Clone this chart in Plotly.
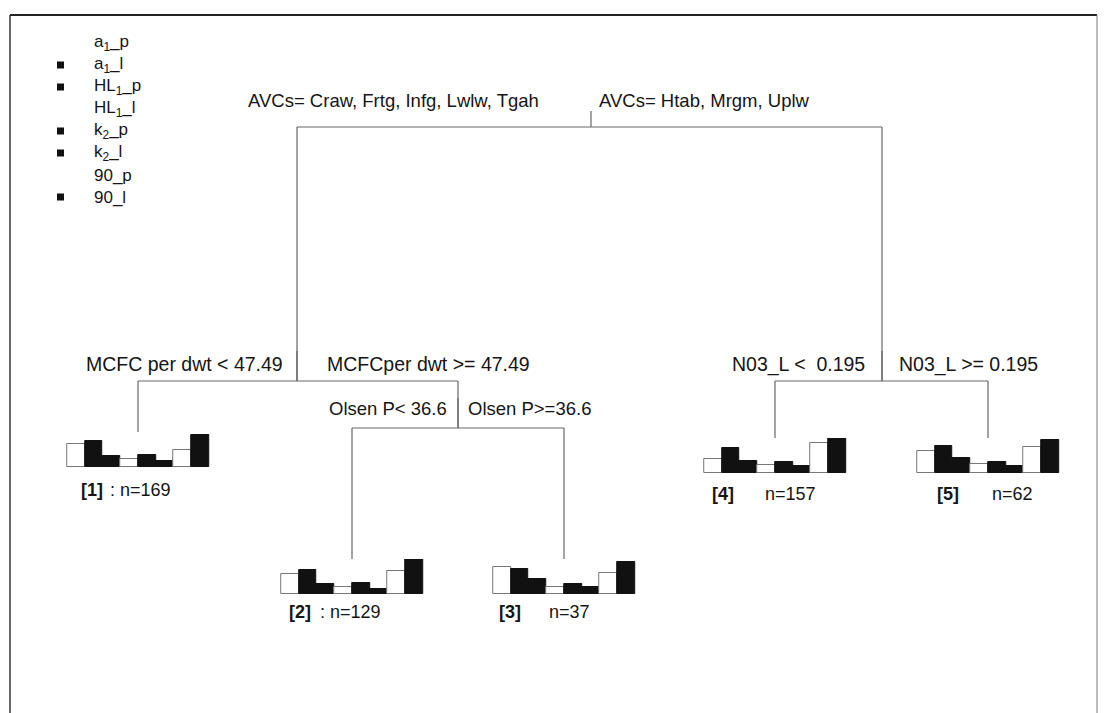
import plotly.graph_objects as go

W, H = 1107, 713
FONT = "Liberation Sans, Arial, sans-serif"
TXT = "#151515"

# Response variables (bar order inside every leaf) and their fill colours
series = ["a<sub>1</sub>_p", "a<sub>1</sub>_l", "HL<sub>1</sub>_p", "HL<sub>1</sub>_l",
          "k<sub>2</sub>_p", "k<sub>2</sub>_l", "90_p", "90_l"]
series_fill = ["white", "#111111", "#111111", "white", "#111111", "#111111", "white", "#111111"]
series_edge = ["#777777", "#111111", "#111111", "#777777", "#111111", "#111111", "#777777", "#111111"]

# Leaf means (relative scale) and leaf sizes
leaf_labels = ["[1]", "[2]", "[3]", "[4]", "[5]"]
leaf_sep = [":", ":", "", "", ""]
leaf_n = [169, 129, 37, 157, 62]
leaf1 = [0.66, 0.74, 0.31, 0.23, 0.34, 0.17, 0.49, 0.91]
leaf2 = [0.57, 0.68, 0.28, 0.20, 0.32, 0.15, 0.65, 0.99]
leaf3 = [0.77, 0.72, 0.43, 0.20, 0.29, 0.20, 0.60, 0.91]
leaf4 = [0.41, 0.71, 0.33, 0.24, 0.32, 0.19, 0.86, 0.99]
leaf5 = [0.62, 0.77, 0.43, 0.27, 0.32, 0.19, 0.75, 0.95]
leaf_values = [leaf1, leaf2, leaf3, leaf4, leaf5]

# Split rules (left branch text, right branch text)
splits = [
    ("AVCs= Craw, Frtg, Infg, Lwlw, Tgah", "AVCs= Htab, Mrgm, Uplw"),
    ("MCFC per dwt < 47.49", "MCFCper dwt >= 47.49"),
    ("Olsen P< 36.6", "Olsen P>=36.6"),
    ("N03_L <  0.195", "N03_L >= 0.195"),
]
split_font = [18.5, 19.5, 18.5, 19.5]

# ---- layout geometry (pixels, origin top-left) ----
leaf_cx = [138, 352, 564, 775, 988]
leaf_base = [467, 594, 594, 473, 473]
bar_block_w = 142
bar_block_h = 35
leaf_text_y = [490, 612, 612, 494, 494]
leaf_id_x = [79, 287, 497, 710, 935]
leaf_n_x = [108, 318, 547, 763, 990]

# split nodes: x of node, y of horizontal connector, x of left/right child, label anchors
nodes = [
    dict(x=591, y=127, xl=297, xr=882, tick=16, lx=541, rx=597, ty=100),
    dict(x=297, y=381, xl=leaf_cx[0], xr=458, tick=30, lx=285, rx=325, ty=364),
    dict(x=458, y=428, xl=leaf_cx[1], xr=leaf_cx[2], tick=30, lx=449, rx=466, ty=408),
    dict(x=882, y=381, xl=leaf_cx[3], xr=leaf_cx[4], tick=30, lx=867, rx=897, ty=364),
]
# where each branch's vertical drop ends
child_bottom = {
    (0, "l"): 381, (0, "r"): 381,
    (1, "l"): leaf_base[0] - bar_block_h, (1, "r"): 428,
    (2, "l"): leaf_base[1] - bar_block_h, (2, "r"): leaf_base[2] - bar_block_h,
    (3, "l"): leaf_base[3] - bar_block_h, (3, "r"): leaf_base[4] - bar_block_h,
}

fig = go.Figure()
LINE = dict(color="#666666", width=1.2)
shapes = []
annotations = []


def label(x, y, text, anchor, size=18):
    return dict(x=x, y=y, xref="x", yref="y", text=text, xanchor=anchor, yanchor="middle",
                showarrow=False, font=dict(family=FONT, size=size, color=TXT))


# tree branches
for i, nd in enumerate(nodes):
    shapes.append(dict(type="line", xref="x", yref="y", x0=nd["x"], x1=nd["x"],
                       y0=nd["y"] - nd["tick"], y1=nd["y"], line=LINE))
    shapes.append(dict(type="line", xref="x", yref="y", x0=nd["xl"], x1=nd["xr"],
                       y0=nd["y"], y1=nd["y"], line=LINE))
    shapes.append(dict(type="line", xref="x", yref="y", x0=nd["xl"], x1=nd["xl"],
                       y0=nd["y"], y1=child_bottom[(i, "l")], line=LINE))
    shapes.append(dict(type="line", xref="x", yref="y", x0=nd["xr"], x1=nd["xr"],
                       y0=nd["y"], y1=child_bottom[(i, "r")], line=LINE))
    left_txt, right_txt = splits[i]
    annotations.append(label(nd["lx"], nd["ty"], left_txt, "right", split_font[i]))
    annotations.append(label(nd["rx"], nd["ty"], right_txt, "left", split_font[i]))

# leaf bar charts, each on its own small axis pair
pad = 0.1
for k, vals in enumerate(leaf_values):
    ax = k + 2
    n = len(series)
    unit = bar_block_w / n
    x0 = (leaf_cx[k] - bar_block_w / 2 - pad * unit) / W
    x1 = (leaf_cx[k] + bar_block_w / 2 + pad * unit) / W
    y0 = (H - leaf_base[k] - 1) / H
    y1 = (H - leaf_base[k] + bar_block_h) / H
    fig.add_trace(go.Bar(
        x=list(range(n)), y=vals,
        marker=dict(color=series_fill, line=dict(color=series_edge, width=1)),
        xaxis=f"x{ax}", yaxis=f"y{ax}", showlegend=False, hoverinfo="skip",
    ))
    fig.layout[f"xaxis{ax}"] = dict(domain=[x0, x1], range=[-0.5 - pad, n - 0.5 + pad],
                                    visible=False, anchor=f"y{ax}", fixedrange=True)
    fig.layout[f"yaxis{ax}"] = dict(domain=[y0, y1], range=[-1.0 / bar_block_h, 1.0],
                                    visible=False, anchor=f"x{ax}", fixedrange=True)
    # leaf caption
    annotations.append(label(leaf_id_x[k], leaf_text_y[k], f"<b>{leaf_labels[k]}</b>", "left"))
    cap = (leaf_sep[k] + " " if leaf_sep[k] else "") + f"n={leaf_n[k]}"
    annotations.append(label(leaf_n_x[k], leaf_text_y[k], cap, "left"))

# key of response variables
key_top, key_step = 43, 22
for j, name in enumerate(series):
    yy = key_top + j * key_step
    if series_fill[j] != "white":
        shapes.append(dict(type="rect", xref="x", yref="y", x0=57, x1=64, y0=yy - 3.5, y1=yy + 3.5,
                           fillcolor="#111", line=dict(width=0)))
    annotations.append(label(92, yy, name, "left", 17))

# frame
shapes += [
    dict(type="line", xref="x", yref="y", x0=10, x1=1097, y0=15, y1=15,
         line=dict(color="#222", width=2)),
    dict(type="line", xref="x", yref="y", x0=10, x1=10, y0=15, y1=H,
         line=dict(color="#333", width=1.5)),
    dict(type="line", xref="x", yref="y", x0=1097, x1=1097, y0=15, y1=H,
         line=dict(color="#777", width=1)),
]

fig.update_layout(
    width=W, height=H,
    margin=dict(l=0, r=0, t=0, b=0),
    paper_bgcolor="white", plot_bgcolor="white",
    xaxis=dict(range=[0, W], visible=False, domain=[0, 1], fixedrange=True),
    yaxis=dict(range=[H, 0], visible=False, domain=[0, 1], fixedrange=True),
    bargap=0,
    shapes=shapes,
    annotations=annotations,
    showlegend=False,
)

fig.write_html("out.html")
